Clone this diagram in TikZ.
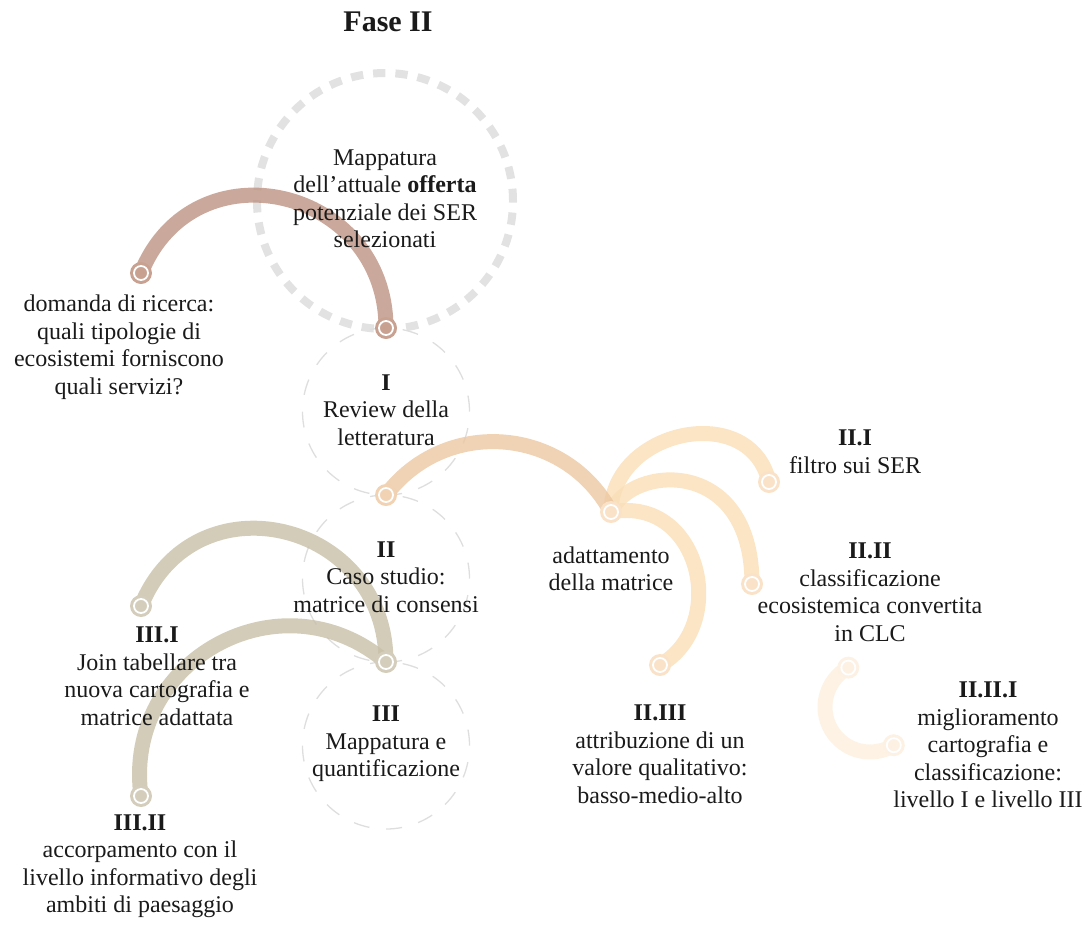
\documentclass[tikz,border=0pt]{standalone}
\usepackage{fontspec}
\setmainfont{Liberation Serif}
\definecolor{cbrown}{HTML}{BD9483}
\definecolor{cpeach}{HTML}{ECC7A1}
\definecolor{cyel}{HTML}{FADFB7}
\definecolor{colive}{HTML}{C8BFA8}
\definecolor{cfaint}{HTML}{FCEFDD}
\definecolor{dbrown}{HTML}{C8A190}
\definecolor{dpeach}{HTML}{F1D2B2}
\definecolor{dyel}{HTML}{FAE2C8}
\definecolor{dolive}{HTML}{D4CDBB}
\definecolor{dfaint}{HTML}{FDF1E4}
\definecolor{ringgray}{HTML}{E2E2E2}
\definecolor{thingray}{HTML}{DEDEDE}
\definecolor{txtcol}{HTML}{1A1A1A}
\begin{document}
\begin{tikzpicture}[x=1pt,y=1pt,yscale=-1,
  txt/.style={font=\fontsize{24}{27.5}\selectfont, align=center, inner sep=0pt, text=txtcol},
  hub/.style={circle, fill=#1, minimum size=22pt, inner sep=0pt,
    path picture={\draw[white,line width=1.8pt] (path picture bounding box.center) circle[radius=7pt];}},
  band/.style={draw=#1, line width=15pt, draw opacity=0.8, line cap=butt},
  ringbig/.style={circle, draw=ringgray, line width=8pt, dash pattern=on 12.3pt off 10pt, inner sep=0pt},
  ringthin/.style={circle, draw=thingray, line width=1.3pt, dash pattern=on 16pt off 16.8pt, inner sep=0pt}
]
\useasboundingbox (0,0) rectangle (1083,940);

% dashed rings
\node[ringbig, minimum size=256pt] (rtop) at (385,201) {};
\node[ringthin, minimum size=167pt] (r1) at (386,411.5) {};
\node[ringthin, minimum size=167pt] (r2) at (386,578.5) {};
\node[ringthin, minimum size=167pt] (r3) at (386,745.5) {};

% anchor points
\coordinate (q1) at (141,273);
\coordinate (p1) at (386,328);
\coordinate (p2) at (386,495);
\coordinate (p3) at (386,662);
\coordinate (a1) at (611,512);
\coordinate (f1) at (769,482);
\coordinate (c1) at (752,584);
\coordinate (v1) at (660,665);
\coordinate (j1) at (141,606);
\coordinate (k1) at (141,796);
\coordinate (e1) at (848.3,667.6);
\coordinate (em) at (831.2,729.8);
\coordinate (e2) at (893.8,745.2);

% arcs
\draw[band=cfaint] (e1) .. controls (826.1,679.8) and (818.4,708) .. (em)
                        .. controls (844,751.6) and (872.3,758.6) .. (e2);
\draw[band=cyel] (a1) .. controls (612,430) and (750,400) .. (f1);
\draw[band=cyel] (a1) .. controls (630,465) and (752,455) .. (c1);
\draw[band=cyel] (a1) .. controls (700,495) and (730,625) .. (v1);
\draw[band=cpeach] (p2) .. controls (445,417) and (564.5,426) .. (a1);
\draw[band=colive] (j1) .. controls (194,475) and (386,520) .. (p3);
\draw[band=colive] (k1) .. controls (122.6,659.7) and (281.3,572.9) .. (p3);
\draw[band=cbrown] (q1) .. controls (194,142) and (386,187) .. (p1);

% dots
\node[hub=dbrown] (hq1) at (q1) {};
\node[hub=dbrown] (hp1) at (p1) {};
\node[hub=dpeach] (hp2) at (p2) {};
\node[hub=dolive] (hp3) at (p3) {};
\node[hub=dyel] (ha1) at (a1) {};
\node[hub=dyel] (hf1) at (f1) {};
\node[hub=dyel] (hc1) at (c1) {};
\node[hub=dyel] (hv1) at (v1) {};
\node[hub=dolive] (hj1) at (j1) {};
\node[hub=dolive] (hk1) at (k1) {};
\node[hub=dfaint] (he1) at (e1) {};
\node[hub=dfaint] (he2) at (e2) {};

% texts
\node[txt, font=\fontsize{30}{32}\selectfont\bfseries] (tfase) at (388,22) {Fase II};
\node[txt] (tmap) at (385,199) {Mappatura\\dell’attuale \textbf{offerta}\\potenziale dei SER\\selezionati};
\node[txt] (tdom) at (119,347) {domanda di ricerca:\\quali tipologie di\\ecosistemi forniscono\\quali servizi?};
\node[txt] (tI) at (386,410) {\textbf{I}\\Review della\\letteratura};
\node[txt] (tII) at (386,577) {\textbf{II}\\Caso studio:\\matrice di consensi};
\node[txt] (tIII) at (386,744) {\textbf{III}\\Mappatura e\\quantificazione};
\node[txt] (tIIIi) at (157,676) {\textbf{III.I}\\Join tabellare tra\\nuova cartografia e\\matrice adattata};
\node[txt] (tIIIii) at (140,866) {\textbf{III.II}\\accorpamento con il\\livello informativo degli\\ambiti di paesaggio};
\node[txt] (tada) at (611,569) {adattamento\\della matrice};
\node[txt] (tIIi) at (855,452) {\textbf{II.I}\\filtro sui SER};
\node[txt] (tIIii) at (870,592) {\textbf{II.II}\\classificazione\\ecosistemica convertita\\in CLC};
\node[txt] (tIIiii) at (660,754) {\textbf{II.III}\\attribuzione di un\\valore qualitativo:\\basso-medio-alto};
\node[txt] (tIIiiI) at (988,745) {\textbf{II.II.I}\\miglioramento\\cartografia e\\classificazione:\\livello I e livello III};
\end{tikzpicture}
\end{document}
